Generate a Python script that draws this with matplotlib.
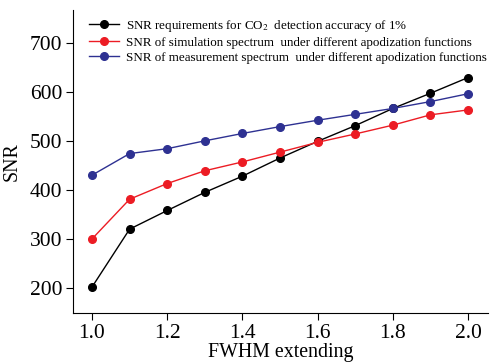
import matplotlib
matplotlib.use("Agg")
import matplotlib.pyplot as plt

plt.rcParams['font.family'] = ['Liberation Serif', 'DejaVu Serif']
plt.rcParams['mathtext.fontset'] = 'stix'

fwhm = [1.0, 1.1, 1.2, 1.3, 1.4, 1.5, 1.6, 1.7, 1.8, 1.9, 2.0]
snr_required = [202, 320, 358, 395, 428, 465, 499, 531, 566, 597, 629]
snr_simulation = [300, 381, 413, 439, 457, 477, 497, 514, 532, 553, 563]
snr_measurement = [430, 474, 484, 500, 515, 529, 542, 554, 566, 580, 596]

labels = [
    'SNR requirements for CO$_2$  detection accuracy of 1%',
    'SNR of simulation spectrum  under different apodization functions',
    'SNR of measurement spectrum  under different apodization functions',
]

fig = plt.figure(figsize=(4.98, 3.64), dpi=100)
ax = fig.add_axes([0.147, 0.14, 0.833, 0.833])

ax.plot(fwhm, snr_required, '-o', color='black', lw=1, ms=5.5, label=labels[0])
ax.plot(fwhm, snr_simulation, '-o', color='#ec1c24', lw=1, ms=5.5, label=labels[1])
ax.plot(fwhm, snr_measurement, '-o', color='#2e3192', lw=1, ms=5.5, label=labels[2])

ax.set_xlim(0.95, 2.053)
ax.set_ylim(149, 767)
ax.set_xticks([1.0, 1.2, 1.4, 1.6, 1.8, 2.0])
ax.set_yticks([200, 300, 400, 500, 600, 700])
ax.tick_params(labelsize=15.5, length=5, direction='out', pad=3)
ax.spines['top'].set_visible(False)
ax.spines['right'].set_visible(False)
ax.set_xlabel('FWHM extending', fontsize=14.3, labelpad=0)
ax.set_ylabel('SNR', fontsize=14.3, labelpad=6)

ax.legend(loc='upper left', bbox_to_anchor=(0.02, 1.0), frameon=False, fontsize=9.4,
          handlelength=2.3, handletextpad=0.5, labelspacing=0.22, borderaxespad=0.2)

fig.savefig('out.png', dpi=100)
